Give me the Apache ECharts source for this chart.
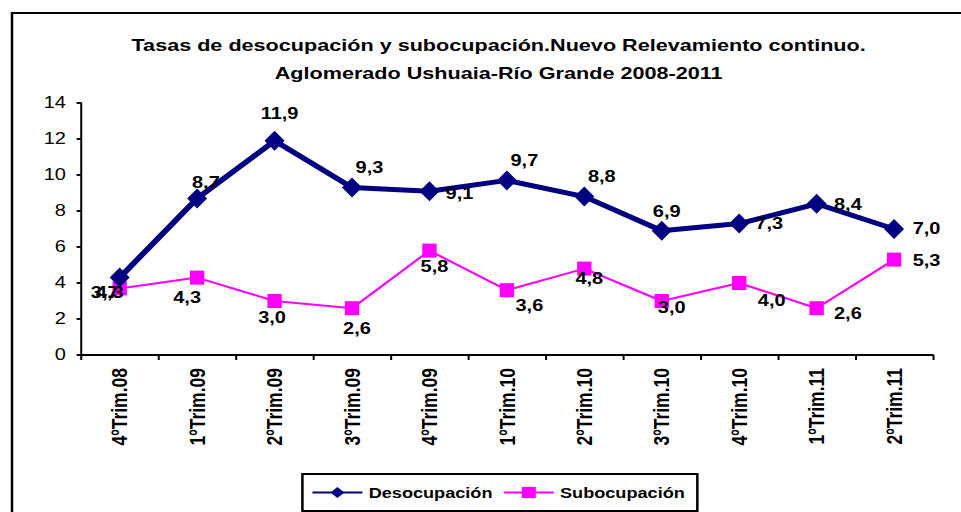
<!DOCTYPE html>
<html><head><meta charset="utf-8">
<script src="https://cdn.jsdelivr.net/npm/echarts@6/dist/echarts.min.js"></script>
<style>
html,body{margin:0;padding:0;background:#fff;overflow:hidden;width:961px;height:512px}
#c{width:769px;height:512px;transform:scaleX(1.2497);transform-origin:0 0}
</style>
</head><body><div id="c"></div>
<script>
const categories = ['4ºTrim.08','1ºTrim.09','2ºTrim.09','3ºTrim.09','4ºTrim.09','1ºTrim.10','2ºTrim.10','3ºTrim.10','4ºTrim.10','1ºTrim.11','2ºTrim.11'];
const desocupacion = [4.3, 8.7, 11.9, 9.3, 9.1, 9.7, 8.8, 6.9, 7.3, 8.4, 7.0];
const subocupacion = [3.7, 4.3, 3.0, 2.6, 5.8, 3.6, 4.8, 3.0, 4.0, 2.6, 5.3];
const yTicks = [0, 2, 4, 6, 8, 10, 12, 14];

// Excel-like label placement, kept separate from the data
const desOffsets = [[-8,15],[7,-16],[4,-27],[14,-20],[24,2],[14,-20],[14,-20],[4,-19],[24,0],[25,1],[26,0]];
const subOffsets = [[-12,4],[-8,20],[-2,17],[4,20],[4,16],[18,15],[4,10],[8,7],[26,18],[25,5],[26,1]];

const fmt = v => v.toFixed(1).replace('.', ',');
const FONT = 'Arial, "Liberation Sans", sans-serif';
const lblStyle = {show:true, position:'inside', color:'#000', fontFamily:FONT, fontWeight:'bold', fontSize:16};

const chart = echarts.init(document.getElementById('c'), null, {renderer:'svg'});
chart.setOption({
  animation:false,
  backgroundColor:'#fff',
  title:{
    text:'Tasas de desocupación y subocupación.Nuevo Relevamiento continuo.\nAglomerado Ushuaia-Río Grande 2008-2011',
    left:394, top:26, textAlign:'center',
    textStyle:{fontFamily:FONT, fontWeight:'bold', fontSize:17.3, lineHeight:28, color:'#000'}
  },
  graphic:[{type:'rect', shape:{x:9.6, y:13, width:800, height:520}, style:{fill:'none', stroke:'#000', lineWidth:2}, silent:true, z:100}],
  legend:{
    top:474, left:242, itemWidth:40, itemHeight:14, itemGap:8,
    padding:[10,10,10,7],
    borderColor:'#000', borderWidth:2,
    textStyle:{fontFamily:FONT, fontWeight:'bold', fontSize:14.5, lineHeight:17, color:'#000'},
    data:['Desocupación','Subocupación']
  },
  grid:{left:64.8, right:22.6, top:103, bottom:157},
  xAxis:{
    type:'category', data:categories, boundaryGap:true,
    axisLine:{lineStyle:{color:'#000', width:2}},
    axisTick:{show:true, length:5, lineStyle:{color:'#000', width:1.6}},
    axisLabel:{rotate:90, margin:13, color:'#000', fontFamily:FONT, fontWeight:'bold', fontSize:17.5}
  },
  yAxis:{
    type:'value', min:yTicks[0], max:yTicks[yTicks.length-1], interval:2,
    axisLine:{show:true, lineStyle:{color:'#000', width:1.6}},
    axisTick:{show:true, length:3.5, lineStyle:{color:'#000', width:2}},
    splitLine:{show:false},
    axisLabel:{margin:12, color:'#000', fontFamily:FONT, fontSize:16}
  },
  series:[
    {
      name:'Desocupación', type:'line', z:3,
      data:desocupacion.map((v,i)=>({value:v, label:Object.assign({}, lblStyle, {offset:desOffsets[i], formatter:fmt(v)})})),
      symbol:'diamond', symbolSize:[16,20],
      lineStyle:{color:'#000080', width:5},
      itemStyle:{color:'#000080'}
    },
    {
      name:'Subocupación', type:'line', z:2,
      data:subocupacion.map((v,i)=>({value:v, label:Object.assign({}, lblStyle, {offset:subOffsets[i], formatter:fmt(v)})})),
      symbol:'rect', symbolSize:[11.5,14],
      lineStyle:{color:'#FF00FF', width:2},
      itemStyle:{color:'#FF00FF'}
    }
  ]
});
</script></body></html>
